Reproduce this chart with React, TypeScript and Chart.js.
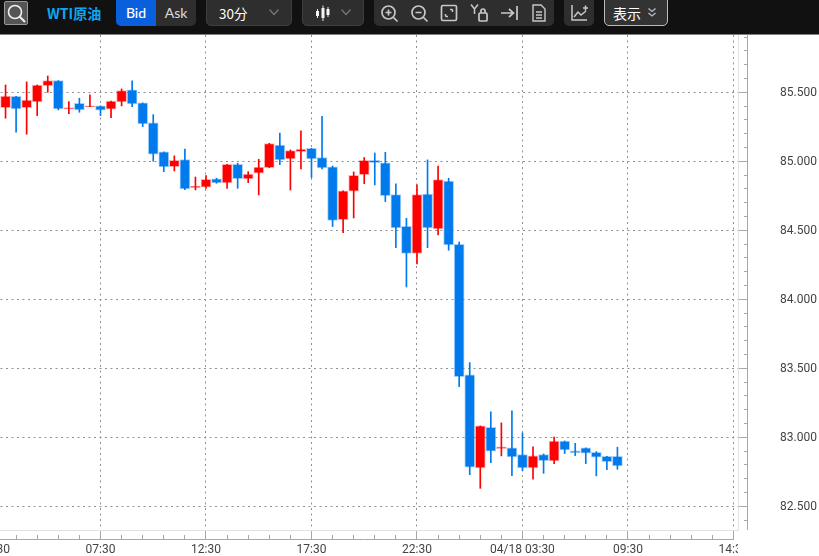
import React, { useEffect, useRef } from "react";
import { Chart, registerables } from "chart.js";

Chart.register(...registerables);

const xTickLabels = ["02:30", "07:30", "12:30", "17:30", "22:30", "04/18 03:30", "09:30", "14:30"];
const slots = [1,2,3,4,5,6,7,8,9,10,11,12,13,14,15,16,17,18,19,20,21,22,23,24,25,26,27,28,29,30,31,32,33,34,35,36,37,38,39,40,41,42,43,44,45,46,47,48,49,50,51,52,53,54,55,56,57,58,59];
const opens = [85.389,85.471,85.389,85.430,85.548,85.585,85.379,85.420,85.396,85.401,85.377,85.430,85.517,85.423,85.278,85.068,84.961,85.012,84.809,84.812,84.872,84.843,84.978,84.872,84.913,84.954,85.118,85.017,85.070,85.094,85.027,84.959,84.577,84.783,84.903,85.007,84.988,84.758,84.529,84.333,84.763,84.510,84.857,84.399,83.452,82.778,83.072,82.918,82.923,82.874,82.778,82.874,82.828,82.973,82.901,82.923,82.891,82.862,82.862];
const closes = [85.473,85.379,85.444,85.553,85.585,85.379,85.389,85.372,85.401,85.370,85.437,85.512,85.415,85.271,85.051,84.959,85.007,84.800,84.819,84.870,84.843,84.978,84.874,84.908,84.957,85.128,85.010,85.077,85.089,85.017,84.952,84.572,84.785,84.899,85.007,84.990,84.751,84.517,84.333,84.758,84.517,84.867,84.394,83.440,82.783,83.082,82.899,82.930,82.857,82.778,82.865,82.831,82.973,82.908,82.886,82.884,82.855,82.824,82.792];
const highs = [85.553,85.471,85.575,85.553,85.618,85.585,85.432,85.457,85.481,85.401,85.437,85.524,85.582,85.423,85.338,85.068,85.039,85.089,84.886,84.896,84.877,84.978,84.986,84.925,85.014,85.130,85.205,85.082,85.220,85.094,85.326,84.966,84.785,84.923,85.027,85.060,85.065,84.836,84.587,84.829,85.010,84.966,84.877,84.415,83.541,83.082,83.184,83.104,83.191,83.031,82.930,82.879,83.002,82.973,82.956,82.923,82.896,82.862,82.928];
const lows = [85.312,85.210,85.196,85.331,85.500,85.372,85.345,85.355,85.396,85.331,85.316,85.401,85.396,85.251,85.000,84.925,84.930,84.795,84.792,84.804,84.841,84.804,84.804,84.845,84.756,84.954,84.976,84.792,84.944,84.882,84.944,84.527,84.483,84.589,84.838,84.829,84.708,84.374,84.089,84.256,84.374,84.466,84.355,83.367,82.729,82.630,82.816,82.865,82.722,82.758,82.696,82.739,82.809,82.882,82.867,82.809,82.720,82.766,82.768];

const RED = "#ff0000";
const BLUE = "#007aec";
const RED_EDGE = "rgba(255,0,0,0.3)";
const BLUE_EDGE = "rgba(0,122,236,0.35)";
const GRID = "#909090";
const AXIS = "#a8a8a8";
const TEXT = "#444444";
const FONT = "Roboto, sans-serif";
const GRID_DASH = [2, 3.5];

const isUp = (i: number) => closes[i] >= opens[i];

const outerAxes = {
  id: "outerAxes",
  afterDraw(chart: any) {
    const { ctx, scales, chartArea } = chart;
    ctx.save();
    ctx.clearRect(chartArea.right, 540, 90, 20);
    ctx.strokeStyle = AXIS;
    ctx.lineWidth = 1;
    ctx.beginPath();
    ctx.moveTo(scales.x.left, chartArea.bottom + 9.5);
    ctx.lineTo(scales.x.getPixelForValue(70) + 0.5, chartArea.bottom + 9.5);
    ctx.moveTo(chartArea.right + 9.5, chartArea.top);
    ctx.lineTo(chartArea.right + 9.5, chartArea.bottom);
    ctx.stroke();
    ctx.restore();
  },
};

const btn: React.CSSProperties = { position: "absolute", top: -4, height: 30, boxSizing: "border-box", background: "#2e2e2e", borderRadius: 5 };
const label: React.CSSProperties = { position: "absolute", top: 0, height: 26, lineHeight: "26px", whiteSpace: "nowrap" };

function Chevron({ x, color = "#777" }: { x: number; color?: string }) {
  return (
    <svg style={{ position: "absolute", left: x, top: 8 }} width="12" height="9" viewBox="0 0 12 9">
      <path d="M1.5 1.5 L6 6.5 L10.5 1.5" fill="none" stroke={color} strokeWidth="1.2" />
    </svg>
  );
}

function Icon({ x, children, w = 20 }: { x: number; children: React.ReactNode; w?: number }) {
  return (
    <svg style={{ position: "absolute", left: x - w / 2, top: 3 }} width={w} height="20" viewBox="0 0 20 20" fill="none" stroke="#c8c8c8" strokeWidth="1.7">
      {children}
    </svg>
  );
}

function Toolbar() {
  return (
    <div style={{ position: "absolute", left: 0, top: 0, width: 819, height: 34, background: "#111", overflow: "hidden", borderBottom: "1px solid #808080", fontFamily: "'Noto Sans CJK JP', 'Noto Sans', sans-serif" }}>
      <div style={{ position: "absolute", left: 4, top: 1, width: 24, height: 24, boxSizing: "border-box", background: "#555", border: "1px solid #999", borderRadius: 2 }}>
        <svg width="22" height="22" viewBox="0 0 22 22" fill="none" stroke="#f0f0f0" strokeWidth="1.6">
          <circle cx="10" cy="10" r="6.5" />
          <path d="M14.8 14.8 L20 20" strokeWidth="2" />
        </svg>
      </div>
      <div style={{ ...label, left: 47, color: "#0aa8f0", fontWeight: 700, fontSize: 14 }}>WTI原油</div>
      <div style={{ ...btn, left: 116, width: 40, background: "#0a5fdc", borderRadius: "5px 0 0 5px" }} />
      <div style={{ ...label, left: 116, width: 40, textAlign: "center", color: "#fff", fontSize: 14, fontFamily: "Lato, sans-serif", fontWeight: 500 }}>Bid</div>
      <div style={{ ...btn, left: 156, width: 40, borderRadius: "0 5px 5px 0" }} />
      <div style={{ ...label, left: 156, width: 40, textAlign: "center", color: "#ddd", fontSize: 14, fontFamily: "Lato, sans-serif" }}>Ask</div>
      <div style={{ ...btn, left: 206, width: 86, border: "1px solid #3e3e3e" }} />
      <div style={{ ...label, left: 219, color: "#fff", fontSize: 13.5 }}>30分</div>
      <Chevron x={268} />
      <div style={{ ...btn, left: 302, width: 62, border: "1px solid #3e3e3e" }} />
      <svg style={{ position: "absolute", left: 315, top: 5 }} width="16" height="16" viewBox="0 0 16 16">
        <path d="M2.5 4 V13 M8 0.5 V16 M13 2 V12" stroke="#e8e8e8" strokeWidth="1" />
        <rect x="1" y="6" width="3" height="5" fill="#f4f4f4" />
        <rect x="6.5" y="3" width="3" height="10" fill="#f4f4f4" />
        <rect x="11.5" y="4" width="3" height="6" fill="#f4f4f4" />
      </svg>
      <Chevron x={340} />
      <div style={{ ...btn, left: 374, width: 180 }} />
      <Icon x={389}>
        <circle cx="9.5" cy="9.5" r="6.5" />
        <path d="M14.5 14.5 L18.5 18.5 M6.5 9.5 H12.5 M9.5 6.5 V12.5" />
      </Icon>
      <Icon x={419}>
        <circle cx="9.5" cy="9.5" r="6.5" />
        <path d="M14.5 14.5 L18.5 18.5 M6.5 9.5 H12.5" />
      </Icon>
      <Icon x={449}>
        <rect x="2.5" y="2.5" width="15" height="15" rx="1.5" />
        <path d="M6.5 13.5 L6.5 11 M6.5 13.5 L9 13.5 M13.5 6.5 L11 6.5 M13.5 6.5 L13.5 9" strokeWidth="1.5" />
      </Icon>
      <Icon x={479}>
        <path d="M2 1.5 L5.5 6 L9 1.5 M5.5 6 V11" strokeWidth="1.5" />
        <rect x="10" y="10" width="8" height="8" rx="1" />
        <path d="M12 10 V8 A2 2 0 0 1 16 8 V10" />
      </Icon>
      <Icon x={509}>
        <path d="M2 10 H14 M10 6 L14.5 10 L10 14 M18 3 V17" />
      </Icon>
      <Icon x={539}>
        <path d="M4 2 H12 L16 6 V18 H4 Z M7 9 H13 M7 12 H13 M7 15 H13" strokeWidth="1.4" />
      </Icon>
      <div style={{ ...btn, left: 564, width: 30 }} />
      <Icon x={579}>
        <path d="M3 2 V17 H18 M5 14 L9 9 L12 12 L17 8 M14 5 H19 M16.5 2.5 V7.5" strokeWidth="1.5" />
      </Icon>
      <div style={{ ...btn, left: 604, width: 64, border: "1px solid #bbb", background: "#333" }} />
      <div style={{ ...label, left: 613, color: "#fff", fontSize: 14 }}>表示</div>
      <svg style={{ position: "absolute", left: 647, top: 7 }} width="10" height="12" viewBox="0 0 10 12">
        <path d="M1.5 1.5 L5 4.5 L8.5 1.5 M1.5 6 L5 9 L8.5 6" fill="none" stroke="#bbb" strokeWidth="1.3" />
      </svg>
    </div>
  );
}

export default function App() {
  const ref = useRef<HTMLCanvasElement>(null);

  useEffect(() => {
    const chart = new Chart(ref.current!, {
      type: "bar",
      plugins: [outerAxes],
      data: {
        datasets: [
          {
            label: "wick",
            order: 2,
            grouped: false,
            barThickness: 1,
            data: slots.map((s, i) => ({ x: s, y: [lows[i], highs[i]] })),
            backgroundColor: slots.map((_, i) => (isUp(i) ? RED : BLUE)),
            borderWidth: 0,
          },
          {
            label: "body",
            order: 1,
            grouped: false,
            barThickness: 10,
            data: slots.map((s, i) => ({ x: s, y: [opens[i], closes[i]] })),
            backgroundColor: slots.map((_, i) => (isUp(i) ? RED : BLUE)),
            borderColor: slots.map((_, i) => (isUp(i) ? RED_EDGE : BLUE_EDGE)),
            borderWidth: 1,
            borderSkipped: false,
          },
        ] as any,
      },
      options: {
        responsive: false,
        animation: false,
        layout: { padding: { top: 35, left: 0, right: 0, bottom: 0 } },
        plugins: { legend: { display: false }, tooltip: { enabled: false } },
        scales: {
          x: {
            type: "linear",
            offset: false,
            min: 0,
            max: 70.43,
            afterFit(s: any) {
              s.height = 26;
              s.paddingLeft = 0;
              s.paddingRight = 0;
            },
            border: { color: "#e2e2e2", dash: GRID_DASH },
            grid: {
              offset: false,
              tickLength: 9,
              color: (c: any) => (c.tick && c.tick.value % 10 === 0 ? GRID : "transparent"),
              tickColor: AXIS,
              tickBorderDash: (c: any) => (c.tick && c.tick.value % 10 === 0 ? [] : [0, 4, 5]),
            },
            ticks: {
              stepSize: 2,
              includeBounds: false,
              autoSkip: false,
              maxRotation: 0,
              minRotation: 0,
              maxTicksLimit: 100,
              padding: 4,
              color: TEXT,
              font: { family: FONT, size: 12 },
              callback: (v: any) => (v % 10 === 0 ? xTickLabels[v / 10] : ""),
            },
          },
          y: {
            type: "linear",
            position: "right",
            min: 82.328,
            max: 85.915,
            afterFit(s: any) {
              s.width = 81;
              s.paddingTop = 0;
              s.paddingBottom = 0;
            },
            border: { color: "#e2e2e2", dash: GRID_DASH },
            grid: {
              tickLength: 9,
              color: (c: any) => (c.tick && Math.round(c.tick.value * 10) % 5 === 0 ? GRID : "transparent"),
              tickColor: AXIS,
              tickBorderDash: (c: any) => (c.tick && Math.round(c.tick.value * 10) % 5 === 0 ? [] : [0, 5, 4]),
            },
            ticks: {
              stepSize: 0.1,
              includeBounds: false,
              autoSkip: false,
              maxTicksLimit: 100,
              padding: 33,
              labelOffset: 1,
              color: TEXT,
              font: { family: FONT, size: 12 },
              callback: (v: any) => (Math.round(v * 10) % 5 === 0 ? Number(v).toFixed(3) : ""),
            },
          },
        },
      },
    } as any);
    return () => chart.destroy();
  }, []);

  return (
    <div style={{ position: "fixed", left: 0, top: 0, width: 819, height: 556, overflow: "hidden", background: "#fff" }}>
      <canvas ref={ref} width={824} height={556} style={{ position: "absolute", left: -5, top: 0, width: 824, height: 556 }} />
      <Toolbar />
    </div>
  );
}
